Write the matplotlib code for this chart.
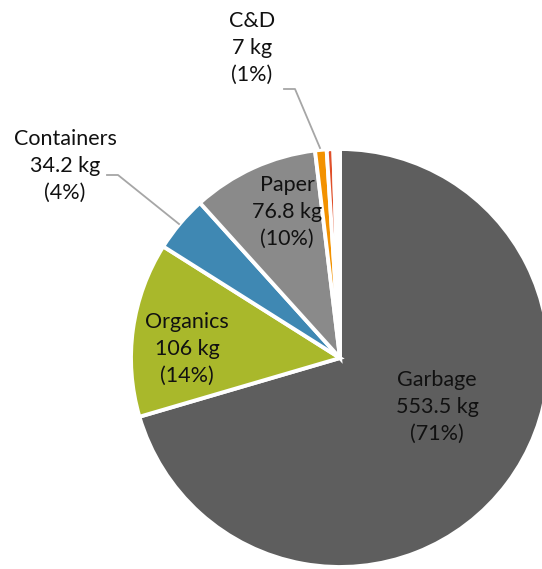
import numpy as np
import matplotlib
matplotlib.use("Agg")
import matplotlib.pyplot as plt

plt.rcParams['font.family'] = ['Lato', 'DejaVu Sans']

# data (clockwise from 12 o'clock)
labels = ["Garbage", "Organics", "Containers", "Paper", "C&D", "", ""]
kg = [553.5, 106, 34.2, 76.8, 7, 4, 4]
pct = [71, 14, 4, 10, 1]
colors = ["#5e5e5e", "#a9b82b", "#3f88b3", "#8a8a8a", "#f39200", "#e0502a", "#ffffff"]

W, H = 542, 569
fig = plt.figure(figsize=(W / 100, H / 100), dpi=100)
ax = fig.add_axes([0, 0, 1, 1])

cx, cy, r = 340, H - 358, 209
ax.pie(kg, colors=colors, startangle=90, counterclock=False,
       center=(cx, cy), radius=r,
       wedgeprops=dict(edgecolor="white", linewidth=2.8))
ax.set_xlim(0, W)
ax.set_ylim(0, H)
ax.set_aspect("equal")
ax.axis("off")

# label positions (image px, centre of text block)
lab_xy = [(437, 407), (187, 349), (65, 166), (287, 212), (252, 48)]
for i in range(5):
    txt = "%s\n%s kg\n(%d%%)" % (labels[i], ("%g" % kg[i]), pct[i])
    ax.text(lab_xy[i][0], H - lab_xy[i][1], txt, ha="center", va="center",
            fontsize=15.5, linespacing=1.45, color="#111111")

# leader lines
ax.plot([107, 118, 179], [H - 175, H - 175, H - 224], color="#a6a6a6", lw=1.3)
ax.plot([284, 295, 320], [H - 89, H - 89, H - 148], color="#a6a6a6", lw=1.3)

fig.savefig("out.png", dpi=100)
